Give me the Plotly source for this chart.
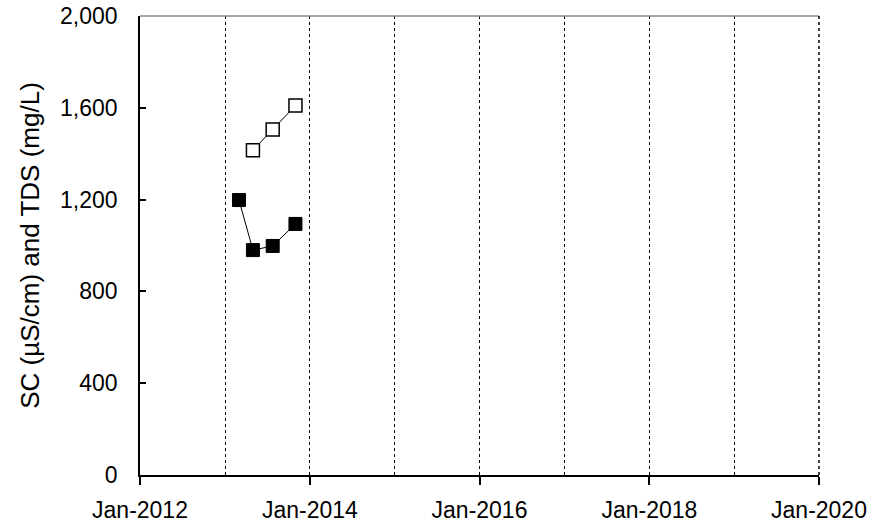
import plotly.graph_objects as go

# Sample dates and values
dates = ['2013-03-02', '2013-05-01', '2013-07-25', '2013-10-31']
sc_values = [1415, 1505, 1610]
sc_dates = dates[1:]
tds_values = [1198, 980, 998, 1094]

font = dict(family='Liberation Sans, Arial, sans-serif', size=23, color='black')

data = [
    go.Scatter(x=sc_dates, y=sc_values, mode='lines+markers', name='SC',
               line=dict(color='black', width=1),
               marker=dict(symbol='square', size=13, color='white',
                           line=dict(color='black', width=1.5))),
    go.Scatter(x=dates, y=tds_values, mode='lines+markers', name='TDS',
               line=dict(color='black', width=1),
               marker=dict(symbol='square', size=13, color='black',
                           line=dict(color='black', width=1))),
]

layout = go.Layout(
    width=892, height=529,
    margin=dict(l=140, r=73, t=16, b=54),
    paper_bgcolor='white', plot_bgcolor='white',
    font=font, showlegend=False,
    xaxis=dict(type='date', range=['2012-01-01', '2020-01-01'], automargin=False,
               dtick='M24', tick0='2012-01-01', tickformat='%b-%Y',
               ticks='outside', ticklen=8, tickcolor='black', tickwidth=1.5,
               ticklabelstandoff=6,
               showline=True, linecolor='black', linewidth=1.5,
               showgrid=True, gridcolor='black', gridwidth=1, griddash='dot',
               minor=dict(dtick='M12', tick0='2012-01-01', showgrid=True,
                          gridcolor='black', gridwidth=1, griddash='dot'),
               zeroline=False),
    yaxis=dict(range=[0, 2000], dtick=400, tickformat=',', automargin=False,
               ticks='inside', ticklen=6, tickcolor='black', tickwidth=1.5,
               ticklabelstandoff=16,
               showline=True, linecolor='black', linewidth=1.5,
               showgrid=False, zeroline=False,
               title=dict(text='SC (µS/cm) and TDS (mg/L)', standoff=13,
                          font=dict(size=26))),
    shapes=[
        # thin grey top border
        dict(type='line', xref='paper', yref='paper', x0=0, x1=1, y0=1, y1=1,
             line=dict(color='#888888', width=1.5)),
        # dotted right edge (Jan-2020 gridline)
        dict(type='line', xref='paper', yref='paper', x0=1, x1=1, y0=0, y1=1,
             line=dict(color='black', width=1.5, dash='dot')),
    ],
)

fig = go.Figure(data=data, layout=layout)
# drop the default 8px body margin so the figure sits at the window's corner
fig.write_html('out.html', config={'displayModeBar': False},
               post_script="document.body.style.margin='0';")
